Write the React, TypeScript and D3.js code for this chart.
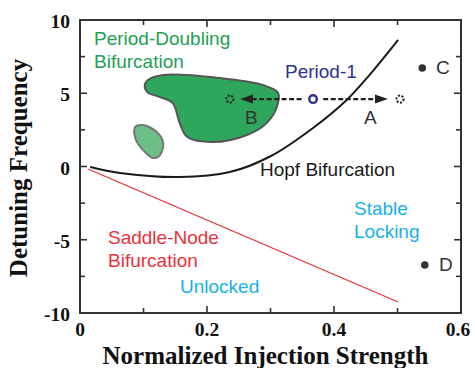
import React from "react";
import * as d3 from "d3";

const W = 475;
const H = 368;

const xTicks = [0, 0.2, 0.4, 0.6];
const xMinor = [0.1, 0.3, 0.5];
const yTicks = [10, 5, 0, -5, -10];
const yMinor = [7.5, 2.5, -2.5, -7.5];

// Hopf bifurcation curve
const hopfX = [0.016, 0.063, 0.157, 0.236, 0.3, 0.367, 0.42, 0.452, 0.477, 0.501];
const hopfY = [-0.03, -0.44, -0.72, -0.38, 0.7, 2.63, 4.54, 6.05, 7.35, 8.65];

// Saddle-node line
const snX = [0.0126, 0.501];
const snY = [-0.17, -9.25];

// Period-doubling regions
const bigBlobX = [0.107, 0.131, 0.22, 0.288, 0.312, 0.31, 0.294, 0.263, 0.209, 0.169, 0.157, 0.146, 0.126, 0.106, 0.102];
const bigBlobY = [5.9, 6.25, 6.04, 5.56, 5.02, 4.06, 2.97, 2.15, 1.67, 2.01, 2.97, 4.33, 4.74, 5.08, 5.56];
const smallBlobX = [0.087, 0.099, 0.121, 0.131, 0.126, 0.115, 0.099, 0.087];
const smallBlobY = [2.7, 2.83, 2.35, 1.6, 0.78, 0.58, 1.13, 1.95];

// Operating points
const p1 = { x: 0.367, y: 4.6 };
const pB = { x: 0.236, y: 4.6 };
const pA = { x: 0.504, y: 4.6 };
const arrowLeft = [0.349, 0.252];
const arrowRight = [0.383, 0.485];
const pC = { x: 0.539, y: 6.72 };
const pD = { x: 0.543, y: -6.72 };

const L = 80, R = 461, T = 20, B = 313;

export default function App() {
  const x = d3.scaleLinear().domain([0, 0.6]).range([L, R]);
  const y = d3.scaleLinear().domain([-10, 10]).range([B, T]);

  const line = d3.line<[number, number]>().x(d => x(d[0])).y(d => y(d[1])).curve(d3.curveCatmullRom.alpha(0.5));
  const closed = d3.line<[number, number]>().x(d => x(d[0])).y(d => y(d[1])).curve(d3.curveCatmullRomClosed.alpha(0.5));

  const hopf = hopfX.map((v, i) => [v, hopfY[i]] as [number, number]);
  const big = bigBlobX.map((v, i) => [v, bigBlobY[i]] as [number, number]);
  const small = smallBlobX.map((v, i) => [v, smallBlobY[i]] as [number, number]);

  const sans = "'Liberation Sans', Arial, sans-serif";
  const serif = "'Liberation Serif', 'Times New Roman', serif";
  const axisCol = "#333";
  const tickFont = { fontFamily: serif, fontWeight: 700, fontSize: 19.5, fill: "#111" } as const;

  const arrowHead = (tipX: number, dir: number, yy: number) => {
    const tx = x(tipX);
    const ty = y(yy);
    return `M${tx},${ty} L${tx - dir * 13},${ty - 4.5} L${tx - dir * 13},${ty + 4.5} Z`;
  };

  return (
    <svg width={W} height={H} style={{ position: "absolute", left: 0, top: 0, background: "#fff" }}>
      <rect x={0} y={0} width={W} height={H} fill="#fff" />
      {/* regions */}
      <path d={closed(big) || ""} fill="#2ea65b" stroke="#555" strokeWidth={2} />
      <path d={closed(small) || ""} fill="#6cbe87" stroke="#777" strokeWidth={2} />
      {/* hopf */}
      <path d={line(hopf) || ""} fill="none" stroke="#1a1a1a" strokeWidth={2} />
      {/* saddle node */}
      <line x1={x(snX[0])} y1={y(snY[0])} x2={x(snX[1])} y2={y(snY[1])} stroke="#e8323c" strokeWidth={1.3} />

      {/* arrows */}
      <line x1={x(arrowLeft[0])} y1={y(p1.y)} x2={x(arrowLeft[1]) + 10} y2={y(p1.y)} stroke="#222" strokeWidth={2.4} strokeDasharray="5,2.5" />
      <path d={arrowHead(arrowLeft[1], -1, p1.y)} fill="#222" />
      <line x1={x(arrowRight[0])} y1={y(p1.y)} x2={x(arrowRight[1]) - 10} y2={y(p1.y)} stroke="#222" strokeWidth={2.4} strokeDasharray="5,2.5" />
      <path d={arrowHead(arrowRight[1], 1, p1.y)} fill="#222" />
      <circle cx={x(p1.x)} cy={y(p1.y)} r={3.8} fill="#fff" stroke="#2e3192" strokeWidth={2.4} />
      <circle cx={x(pB.x)} cy={y(pB.y)} r={3.6} fill="none" stroke="#222" strokeWidth={2} strokeDasharray="2,1.6" />
      <circle cx={x(pA.x)} cy={y(pA.y)} r={3.6} fill="none" stroke="#222" strokeWidth={2} strokeDasharray="2,1.6" />
      <circle cx={x(pC.x)} cy={y(pC.y)} r={3.8} fill="#333" />
      <circle cx={x(pD.x)} cy={y(pD.y)} r={3.8} fill="#333" />

      {/* texts */}
      <g fontFamily={sans} fontSize={19}>
        <text x={94} y={45} fill="#1fa055">Period-Doubling</text>
        <text x={94} y={68} fill="#1fa055">Bifurcation</text>
        <text x={285} y={78} fill="#2e3192">Period-1</text>
        <text x={245} y={124} fill="#333">B</text>
        <text x={364} y={124} fill="#333">A</text>
        <text x={436} y={74} fill="#333">C</text>
        <text x={439} y={271} fill="#333">D</text>
        <text x={260} y={176} fill="#1a1a1a">Hopf Bifurcation</text>
        <text x={354} y={215} fill="#1ab0e8">Stable</text>
        <text x={354} y={238} fill="#1ab0e8">Locking</text>
        <text x={108} y={244} fill="#e8323c">Saddle-Node</text>
        <text x={108} y={267} fill="#e8323c">Bifurcation</text>
        <text x={180} y={293} fill="#1ab0e8">Unlocked</text>
      </g>

      {/* frame */}
      <rect x={L} y={T} width={R - L} height={B - T} fill="none" stroke={axisCol} strokeWidth={2} />
      {xTicks.concat(xMinor).map((t, i) => {
        const len = xMinor.includes(t) ? 5 : 7;
        if (t === 0 || t === 0.6) return null;
        return (
          <g key={"xt" + i}>
            <line x1={x(t)} x2={x(t)} y1={B} y2={B - len} stroke={axisCol} strokeWidth={1.6} />
            <line x1={x(t)} x2={x(t)} y1={T} y2={T + len} stroke={axisCol} strokeWidth={1.6} />
          </g>
        );
      })}
      {yTicks.concat(yMinor).map((t, i) => {
        const len = yMinor.includes(t) ? 5 : 7;
        if (t === 10 || t === -10) return null;
        return (
          <g key={"yt" + i}>
            <line x1={L} x2={L + len} y1={y(t)} y2={y(t)} stroke={axisCol} strokeWidth={1.6} />
            <line x1={R} x2={R - len} y1={y(t)} y2={y(t)} stroke={axisCol} strokeWidth={1.6} />
          </g>
        );
      })}
      {xTicks.map((t, i) => (
        <text key={"xl" + i} x={x(t) - (t === 0.6 ? 3 : 0)} y={336} textAnchor="middle" {...tickFont}>
          {d3.format("")(t)}
        </text>
      ))}
      {yTicks.map((t, i) => (
        <text key={"yl" + i} x={70} y={y(t) + 8} textAnchor="end" {...tickFont}>
          {t}
        </text>
      ))}
      <text x={(L + R) / 2 - 5} y={364} textAnchor="middle" fontFamily={serif} fontWeight={700} fontSize={25} fill="#111">
        Normalized Injection Strength
      </text>
      <text transform={`translate(27,${168}) rotate(-90)`} textAnchor="middle" fontFamily={serif} fontWeight={700} fontSize={25} fill="#111">
        Detuning Frequency
      </text>
    </svg>
  );
}
